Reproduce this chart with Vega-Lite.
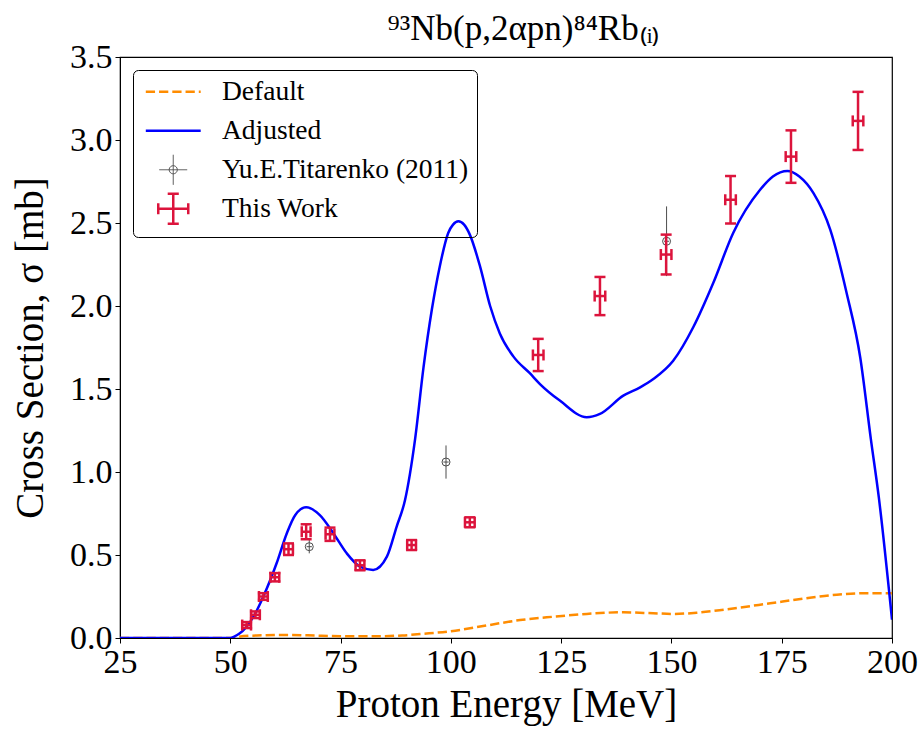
{
  "$schema": "https://vega.github.io/schema/vega-lite/v6.json",
  "width": 772,
  "height": 581,
  "autosize": {"type": "none"},
  "padding": {"left": 120, "top": 57, "right": 30, "bottom": 91},
  "background": "white",
  "config": {
    "font": "Liberation Serif",
    "title": {"font": "Liberation Serif"},
    "view": {"stroke": "#000", "strokeWidth": 1.2},
    "axis": {"grid": false, "labelFlush": false, "labelOverlap": false, "domainColor": "#000", "tickColor": "#000", "labelColor": "#000", "titleColor": "#000", "labelFont": "Liberation Serif", "titleFont": "Liberation Serif", "titleFontWeight": "normal"}
  },
  "title": {"text": "⁹³Nb(p,2αpn)⁸⁴Rb₍ᵢ₎", "font": "Liberation Serif", "fontSize": 35, "fontWeight": "normal", "color": "#000", "anchor": "middle", "baseline": "bottom", "offset": 5, "dy": 47, "dx": 18},
  "datasets": {
    "def": [
      {"E": 25, "v": 0}, {"E": 40, "v": 0}, {"E": 50, "v": 0}, {"E": 52, "v": 0.008}, {"E": 56, "v": 0.015},
      {"E": 63, "v": 0.018}, {"E": 67.5, "v": 0.016}, {"E": 75, "v": 0.011}, {"E": 81.5, "v": 0.01},
      {"E": 89, "v": 0.015}, {"E": 93, "v": 0.024}, {"E": 99.8, "v": 0.04}, {"E": 108, "v": 0.075},
      {"E": 115.7, "v": 0.108}, {"E": 123.2, "v": 0.128}, {"E": 130.8, "v": 0.145}, {"E": 139.1, "v": 0.155},
      {"E": 145.9, "v": 0.149}, {"E": 150.4, "v": 0.145}, {"E": 155.7, "v": 0.152}, {"E": 162.5, "v": 0.173},
      {"E": 172.4, "v": 0.209}, {"E": 179.9, "v": 0.237}, {"E": 187.5, "v": 0.261}, {"E": 195, "v": 0.27}, {"E": 200, "v": 0.27}
    ],
    "adj": [
      {"E": 25, "v": 0}, {"E": 40, "v": 0}, {"E": 50, "v": 0}, {"E": 51, "v": 0.01}, {"E": 52, "v": 0.025},
      {"E": 53.7, "v": 0.068}, {"E": 55.5, "v": 0.14}, {"E": 57.5, "v": 0.25}, {"E": 60.5, "v": 0.45},
      {"E": 62.8, "v": 0.63}, {"E": 64.7, "v": 0.74}, {"E": 67.2, "v": 0.787}, {"E": 70.3, "v": 0.74},
      {"E": 73.4, "v": 0.63}, {"E": 76.4, "v": 0.51}, {"E": 79.4, "v": 0.43}, {"E": 82.4, "v": 0.41},
      {"E": 85.5, "v": 0.49}, {"E": 87.7, "v": 0.67}, {"E": 89.6, "v": 0.83}, {"E": 91.9, "v": 1.2},
      {"E": 93.8, "v": 1.63}, {"E": 95.7, "v": 1.98}, {"E": 97.5, "v": 2.24}, {"E": 99.4, "v": 2.44},
      {"E": 100.5, "v": 2.49}, {"E": 101.7, "v": 2.51}, {"E": 103, "v": 2.49}, {"E": 104.3, "v": 2.43},
      {"E": 106.6, "v": 2.24}, {"E": 108.9, "v": 2.0}, {"E": 111.1, "v": 1.835}, {"E": 114.2, "v": 1.695},
      {"E": 117.9, "v": 1.595}, {"E": 120.2, "v": 1.53}, {"E": 124.7, "v": 1.43}, {"E": 130.8, "v": 1.33},
      {"E": 133.8, "v": 1.35}, {"E": 139.1, "v": 1.46}, {"E": 142.9, "v": 1.51}, {"E": 145.9, "v": 1.56},
      {"E": 150.4, "v": 1.67}, {"E": 155, "v": 1.875}, {"E": 159.5, "v": 2.14}, {"E": 164, "v": 2.44},
      {"E": 170.1, "v": 2.7}, {"E": 173, "v": 2.78}, {"E": 176.3, "v": 2.813}, {"E": 179, "v": 2.78},
      {"E": 182.2, "v": 2.68}, {"E": 186, "v": 2.46},
      {"E": 189.7, "v": 2.08}, {"E": 192.8, "v": 1.69}, {"E": 195.2, "v": 1.2}, {"E": 197, "v": 0.85}, {"E": 200, "v": 0.11}
    ],
    "tit": [
      {"E": 67.9, "Elo": 67.3, "Ehi": 68.5, "v": 0.55, "vlo": 0.51, "vhi": 0.59},
      {"E": 98.9, "Elo": 98.3, "Ehi": 99.5, "v": 1.06, "vlo": 0.96, "vhi": 1.16},
      {"E": 148.9, "Elo": 148.3, "Ehi": 149.5, "v": 2.39, "vlo": 2.18, "vhi": 2.6}
    ],
    "tw": [
      {"E": 53.7, "Elo": 52.7, "Ehi": 54.7, "v": 0.078, "vlo": 0.06, "vhi": 0.096},
      {"E": 55.7, "Elo": 54.7, "Ehi": 56.7, "v": 0.14, "vlo": 0.12, "vhi": 0.16},
      {"E": 57.5, "Elo": 56.5, "Ehi": 58.5, "v": 0.25, "vlo": 0.23, "vhi": 0.27},
      {"E": 60.1, "Elo": 59.1, "Ehi": 61.1, "v": 0.366, "vlo": 0.341, "vhi": 0.391},
      {"E": 63.2, "Elo": 62.2, "Ehi": 64.2, "v": 0.535, "vlo": 0.5, "vhi": 0.57},
      {"E": 67.2, "Elo": 66.2, "Ehi": 68.2, "v": 0.64, "vlo": 0.595, "vhi": 0.685},
      {"E": 72.6, "Elo": 71.6, "Ehi": 73.6, "v": 0.625, "vlo": 0.585, "vhi": 0.665},
      {"E": 79.4, "Elo": 78.4, "Ehi": 80.4, "v": 0.438, "vlo": 0.408, "vhi": 0.468},
      {"E": 91.1, "Elo": 90.1, "Ehi": 92.1, "v": 0.56, "vlo": 0.53, "vhi": 0.59},
      {"E": 104.3, "Elo": 103.2, "Ehi": 105.4, "v": 0.697, "vlo": 0.667, "vhi": 0.727},
      {"E": 119.8, "Elo": 118.6, "Ehi": 121.0, "v": 1.705, "vlo": 1.608, "vhi": 1.802},
      {"E": 133.8, "Elo": 132.6, "Ehi": 135.0, "v": 2.06, "vlo": 1.945, "vhi": 2.175},
      {"E": 148.8, "Elo": 147.6, "Ehi": 150.0, "v": 2.31, "vlo": 2.19, "vhi": 2.43},
      {"E": 163.4, "Elo": 162.2, "Ehi": 164.6, "v": 2.64, "vlo": 2.497, "vhi": 2.783},
      {"E": 177.1, "Elo": 175.9, "Ehi": 178.3, "v": 2.9, "vlo": 2.742, "vhi": 3.058},
      {"E": 192.3, "Elo": 191.1, "Ehi": 193.5, "v": 3.115, "vlo": 2.94, "vhi": 3.29}
    ]
  },
  "encoding": {
    "x": {"type": "quantitative"},
    "y": {"type": "quantitative"}
  },
  "layer": [
    {
      "data": {"name": "def"},
      "mark": {"type": "line", "strokeWidth": 2.5, "strokeDash": [9.25, 4], "interpolate": "monotone", "clip": true},
      "encoding": {
        "x": {"field": "E", "type": "quantitative",
          "scale": {"domain": [25, 200], "nice": false, "zero": false},
          "axis": {"values": [25, 50, 75, 100, 125, 150, 175, 200], "labelFontSize": 34, "labelPadding": 2, "tickSize": 5, "labelFlush": false, "title": "Proton Energy [MeV]", "titleFontSize": 39, "titleBaseline": "alphabetic", "titleX": 386, "titleY": 78, "titleAlign": "center"}},
        "y": {"field": "v", "type": "quantitative",
          "scale": {"domain": [0, 3.5], "nice": false},
          "axis": {"values": [0, 0.5, 1, 1.5, 2, 2.5, 3, 3.5], "format": ".1f", "labelFontSize": 34, "labelPadding": 3, "tickSize": 5, "labelFlush": false, "title": "Cross Section, σ [mb]", "titleFontSize": 39, "titleAngle": -90, "titleBaseline": "alphabetic", "titleAlign": "center", "titleX": -78, "titleY": 290.5}},
        "color": {"datum": "Default", "type": "nominal",
          "scale": {"domain": ["Default", "Adjusted", "Yu.E.Titarenko (2011)", "This Work"], "range": ["#ff8c00", "#0000ff", "#4d4d4d", "#dc143c"]},
          "legend": {
            "title": null, "orient": "top-left", "offset": 13,
            "strokeColor": "#000", "fillColor": "transparent", "cornerRadius": 5, "padding": 8,
            "labelFont": "Liberation Serif", "labelFontSize": 27.5, "labelColor": "#000", "labelLimit": 500,
            "symbolSize": 900, "symbolStrokeWidth": 2.5, "symbolOffset": 18.5, "labelOffset": 35, "rowPadding": -2,
            "gridAlign": "all", "symbolFillColor": "transparent",
            "encode": {
              "symbols": {
                "update": {
                  "shape": {"signal": "datum.value === 'Default' || datum.value === 'Adjusted' ? 'M-1.83,0H1.83' : datum.value === 'This Work' ? 'M-1,0H1M0,-1V1M-1,-0.37V0.37M1,-0.37V0.37M-0.37,-1H0.37M-0.37,1H0.37' : 'M-0.93,0H0.93M0,-1V1M0.27,0A0.27,0.27,0,1,1,-0.27,0A0.27,0.27,0,1,1,0.27,0'"},
                  "stroke": {"scale": "color", "field": "value"},
                  "strokeWidth": {"signal": "datum.value === 'Yu.E.Titarenko (2011)' ? 1 : 2.5"},
                  "strokeDash": {"signal": "datum.value === 'Default' ? [9.25, 4] : [1, 0]"},
                  "fill": {"value": "transparent"},
                  "fillOpacity": {"value": 0},
                  "size": {"value": 900},
                  "opacity": {"value": 1}
                }
              }
            }
          }}
      }
    },
    {
      "data": {"name": "adj"},
      "mark": {"type": "line", "strokeWidth": 2.5, "interpolate": "monotone", "clip": true},
      "encoding": {
        "x": {"field": "E", "type": "quantitative"},
        "y": {"field": "v", "type": "quantitative"},
        "color": {"datum": "Adjusted", "type": "nominal"}
      }
    },
    {
      "data": {"name": "tit"},
      "mark": {"type": "rule", "strokeWidth": 1},
      "encoding": {
        "x": {"field": "E", "type": "quantitative"},
        "y": {"field": "vlo", "type": "quantitative"},
        "y2": {"field": "vhi"},
        "color": {"datum": "Yu.E.Titarenko (2011)", "type": "nominal"}
      }
    },
    {
      "data": {"name": "tit"},
      "mark": {"type": "rule", "strokeWidth": 1},
      "encoding": {
        "x": {"field": "Elo", "type": "quantitative"},
        "x2": {"field": "Ehi"},
        "y": {"field": "v", "type": "quantitative"},
        "color": {"datum": "Yu.E.Titarenko (2011)", "type": "nominal"}
      }
    },
    {
      "data": {"name": "tit"},
      "mark": {"type": "point", "shape": "circle", "filled": false, "size": 64, "strokeWidth": 1, "opacity": 1},
      "encoding": {
        "x": {"field": "E", "type": "quantitative"},
        "y": {"field": "v", "type": "quantitative"},
        "color": {"datum": "Yu.E.Titarenko (2011)", "type": "nominal"}
      }
    },
    {
      "data": {"name": "tw"},
      "mark": {"type": "rule", "strokeWidth": 2.5},
      "encoding": {
        "x": {"field": "E", "type": "quantitative"},
        "y": {"field": "vlo", "type": "quantitative"},
        "y2": {"field": "vhi"},
        "color": {"datum": "This Work", "type": "nominal"}
      }
    },
    {
      "data": {"name": "tw"},
      "mark": {"type": "rule", "strokeWidth": 2.5},
      "encoding": {
        "x": {"field": "Elo", "type": "quantitative"},
        "x2": {"field": "Ehi"},
        "y": {"field": "v", "type": "quantitative"},
        "color": {"datum": "This Work", "type": "nominal"}
      }
    },
    {
      "data": {"name": "tw"},
      "mark": {"type": "tick", "orient": "horizontal", "size": 11, "thickness": 2.5, "opacity": 1},
      "encoding": {
        "x": {"field": "E", "type": "quantitative"},
        "y": {"field": "vlo", "type": "quantitative"},
        "color": {"datum": "This Work", "type": "nominal"}
      }
    },
    {
      "data": {"name": "tw"},
      "mark": {"type": "tick", "orient": "horizontal", "size": 11, "thickness": 2.5, "opacity": 1},
      "encoding": {
        "x": {"field": "E", "type": "quantitative"},
        "y": {"field": "vhi", "type": "quantitative"},
        "color": {"datum": "This Work", "type": "nominal"}
      }
    },
    {
      "data": {"name": "tw"},
      "mark": {"type": "tick", "orient": "vertical", "size": 11, "thickness": 2.5, "opacity": 1},
      "encoding": {
        "x": {"field": "Elo", "type": "quantitative"},
        "y": {"field": "v", "type": "quantitative"},
        "color": {"datum": "This Work", "type": "nominal"}
      }
    },
    {
      "data": {"name": "tw"},
      "mark": {"type": "tick", "orient": "vertical", "size": 11, "thickness": 2.5, "opacity": 1},
      "encoding": {
        "x": {"field": "Ehi", "type": "quantitative"},
        "y": {"field": "v", "type": "quantitative"},
        "color": {"datum": "This Work", "type": "nominal"}
      }
    }
  ]
}
